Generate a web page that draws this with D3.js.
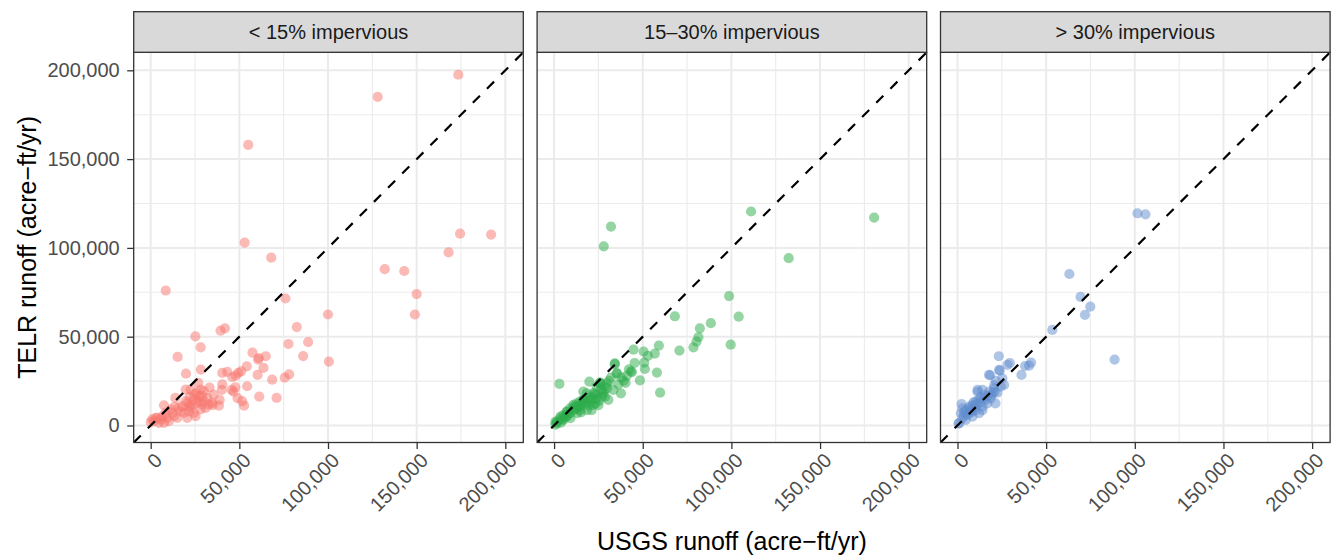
<!DOCTYPE html>
<html>
<head>
<meta charset="utf-8">
<script src="https://cdn.jsdelivr.net/npm/d3@7"></script>
<style>
  body { margin: 0; background: #fff; }
  svg { display: block; }
  text { font-family: "Liberation Sans", Arial, Helvetica, sans-serif; }
</style>
</head>
<body>
<svg id="chart" width="1332" height="555"></svg>
<script>
// Facet labels (imperviousness classes)
const categories = ["< 15% impervious", "15\u201330% impervious", "> 30% impervious"];
const seriesColors = ["#F8766D", "#2CAB4A", "#5F8CCD"];

// Axis breaks (acre-ft/yr)
const majorTicks = [0, 50000, 100000, 150000, 200000];
const minorTicks = [25000, 75000, 125000, 175000];
const axisDomain = [-9577, 210140];

// [USGS runoff, TELR runoff] in acre-ft/yr
const lowImpervious = [
  [173500,197500],[128000,185000],[55000,158000],[53000,103000],[68000,94500],[8500,76000],
  [132000,88000],[143000,87000],[168000,97500],[174500,108000],[192000,107500],[150000,74000],
  [149000,62500],[100000,62500],[100500,36000],[76000,71500],[39400,53400],[41900,54700],
  [25200,50200],[82400,55400],[77700,45900],[88800,47000],[28200,44000],[15200,38600],
  [86000,39100],[57400,41000],[60600,37100],[64900,39000],[63600,32400],[61000,38000],
  [54200,33300],[28300,31500],[19900,29200],[40400,29600],[43200,30200],[46000,27300],
  [49400,29600],[51000,30500],[47900,28100],[60300,28500],[68500,25800],[75600,27000],
  [78100,28800],[71000,15500],[61200,16300],[54400,22100],[52700,11200],[51600,13700],
  [49000,15400],[46700,19100],[47700,21500],[40400,23200],[38900,14400],[38500,11200],
  [33200,21400],[35500,17400],[26800,24000],[28200,20200],[25700,18400],[23500,11800],
  [20800,12700],[19700,20200],[13900,15500],[13500,10500],[7500,11400],[30000,13700],
  [31000,9900],[24400,7100],[21600,8000],[28200,9000],[17800,10900],[15000,4300],
  [12200,7100],[9400,4300],[5600,3400],[1900,2400],[0,1900],[3800,4300],
  [7500,1500],[10300,2400],[13100,5200],[19700,13700],[22500,9900],[26300,12700],
  [29100,16500],[31900,15500],[34700,12700],[25300,5200],[16900,8000],[20600,4300],
  [32800,11800],[27200,16500],[24400,14600],[30000,19300],[22000,16100],[900,3400],
  [45600,20000],[40100,20000],[35000,11500],[22500,20200],[24400,17400],[27200,13700],
  [29100,11800],[21600,10900],[18800,7100],[15900,9900],[11300,9000],[8400,7100],
  [6600,5200],[2800,4300],[4700,1500]
];

const midImpervious = [
  [111100,120500],[180500,117100],[32100,112000],[28000,100900],[132300,94200],[98700,72900],
  [104100,61300],[68100,61500],[88400,57600],[82200,54700],[81400,49700],[80300,47200],
  [78600,44000],[99600,45500],[70700,42200],[59100,45000],[56800,40500],[50500,41600],
  [52900,39200],[44800,42700],[50800,35400],[51200,31800],[58000,29800],[59800,18500],
  [48400,25400],[45400,35200],[42200,31600],[43900,30100],[34300,35000],[3000,23400],
  [37700,18100],[40300,24000],[35300,29400],[31000,25100],[19900,24700],[25900,24100],
  [36200,23200],[30600,14400],[25000,11400],[21200,8700],[15200,7400],[18400,18100],
  [23100,18100],[28100,19100],[1500,2200],[3400,4000],[5300,5900],[7100,7800],
  [9000,9700],[10900,11600],[12800,12500],[14600,13400],[16500,14400],[19300,15300],
  [21200,16200],[24000,17200],[26800,20000],[28700,21900],[24000,21900],[16500,19100],
  [9000,6900],[5300,3100],[12800,9600],[17400,12100],[7100,5000],[10900,8700],
  [3800,1600],[800,500],[14600,10600],[20300,13400],[22100,11600],[33400,20000],
  [28700,16200],[43300,30500],[35500,29400],[29800,23800],[39200,25200],[26100,22800],
  [22000,18100],[16700,14400],[23300,12500],[27000,16200],[14800,8700],[11100,10600],
  [18600,8700],[7300,7800],[3600,5000],[700,2100],[9200,4100],[12900,6900],
  [1700,1200],[34200,34500],[4500,3500],[6200,4800],[8000,6200],[11500,9200],
  [13500,11000],[15500,12000],[18000,13000],[19500,11200],[21000,14500],[23500,15000],
  [25500,14000],[27500,18000],[30000,21000],[26000,24000],[32000,27000],[38000,27000],
  [41000,28000]
];

const highImpervious = [
  [101500,119500],[106000,118900],[63100,85300],[69400,72400],[74900,66900],[71900,62300],
  [53500,53800],[88600,37100],[41500,35400],[40400,33700],[38100,33500],[36100,28500],
  [29500,35200],[28200,34100],[23300,39000],[18400,28300],[23800,30900],[25300,26600],
  [21600,25100],[21400,12500],[24400,21900],[19700,18100],[16000,14400],[11300,20000],
  [14100,20000],[2300,12100],[4700,8700],[8500,11500],[12200,14400],[15200,17200],
  [18000,19100],[20600,20900],[6600,6900],[2800,4000],[600,1200],[10300,8700],
  [14100,10600],[8500,5000],[12200,6900],[4700,3100],[16900,12500],[18800,15300],
  [22500,18500],[26300,22800],[6600,9700],[1900,6900],[2800,9700],[10300,13400],
  [17800,28500],[23500,31300],[11300,19000],[20700,22800],[8400,7800],[1000,1200],
  [6600,10600],[14100,8700],[3500,5500],[5500,6000],[7500,8500],[9500,10000],
  [11000,12000],[13000,13000],[15000,15500],[17000,16500],[19000,17000],[21000,19000],
  [13000,16000],[9000,13000],[4000,7500]
];

const panels = [lowImpervious, midImpervious, highImpervious];

// Layout
const panelLeft = [133.7, 537.1, 940.5];
const panelTop = 52.3;
const panelW = 389.6;
const panelH = 390.2;
const stripTop = 11.7;

const svg = d3.select("#chart");
const fmt = d3.format(",");

const x = d3.scaleLinear().domain(axisDomain).range([0, panelW]);
const y = d3.scaleLinear().domain(axisDomain).range([panelH, 0]);

const defs = svg.append("defs");
defs.append("clipPath").attr("id", "panel-clip")
  .append("rect").attr("width", panelW).attr("height", panelH);

panels.forEach((data, i) => {
  const g = svg.append("g").attr("transform", `translate(${panelLeft[i]},${panelTop})`);

  // background
  g.append("rect").attr("width", panelW).attr("height", panelH).attr("fill", "#fff");

  // minor grid
  const grid = g.append("g").attr("clip-path", "url(#panel-clip)");
  grid.selectAll(".vmin").data(minorTicks).join("line")
    .attr("x1", d => x(d)).attr("x2", d => x(d)).attr("y1", 0).attr("y2", panelH)
    .attr("stroke", "#EBEBEB").attr("stroke-width", 1.1);
  grid.selectAll(".hmin").data(minorTicks).join("line")
    .attr("y1", d => y(d)).attr("y2", d => y(d)).attr("x1", 0).attr("x2", panelW)
    .attr("stroke", "#EBEBEB").attr("stroke-width", 1.1);
  // major grid
  grid.selectAll(".vmaj").data(majorTicks).join("line")
    .attr("x1", d => x(d)).attr("x2", d => x(d)).attr("y1", 0).attr("y2", panelH)
    .attr("stroke", "#EBEBEB").attr("stroke-width", 2);
  grid.selectAll(".hmaj").data(majorTicks).join("line")
    .attr("y1", d => y(d)).attr("y2", d => y(d)).attr("x1", 0).attr("x2", panelW)
    .attr("stroke", "#EBEBEB").attr("stroke-width", 2);

  // points
  const marks = g.append("g").attr("clip-path", "url(#panel-clip)");
  marks.selectAll("circle").data(data).join("circle")
    .attr("cx", d => x(d[0])).attr("cy", d => y(d[1])).attr("r", 5.1)
    .attr("fill", seriesColors[i]).attr("fill-opacity", 0.5);

  // 1:1 reference line
  marks.append("line")
    .attr("x1", x(axisDomain[0])).attr("y1", y(axisDomain[0]))
    .attr("x2", x(axisDomain[1])).attr("y2", y(axisDomain[1]))
    .attr("stroke", "#000").attr("stroke-width", 2.2)
    .attr("stroke-dasharray", "10,10");

  // panel border
  g.append("rect").attr("width", panelW).attr("height", panelH)
    .attr("fill", "none").attr("stroke", "#333333").attr("stroke-width", 1.3);

  // x axis
  const xAxis = g.append("g").attr("transform", `translate(0,${panelH})`)
    .call(d3.axisBottom(x).tickValues(majorTicks).tickSize(6.5).tickPadding(0).tickFormat(fmt));
  xAxis.select(".domain").remove();
  xAxis.selectAll(".tick line").attr("stroke", "#333333").attr("stroke-width", 1.3);
  xAxis.selectAll(".tick text")
    .attr("fill", "#4D4D4D").attr("font-size", 20)
    .attr("y", 0).attr("dy", 0)
    .attr("text-anchor", "end")
    .attr("dominant-baseline", "hanging")
    .attr("transform", "translate(2,9) rotate(-45)");

  // y axis on the first panel only
  if (i === 0) {
    const yAxis = g.append("g")
      .call(d3.axisLeft(y).tickValues(majorTicks).tickSize(6.5).tickPadding(7.5).tickFormat(fmt));
    yAxis.select(".domain").remove();
    yAxis.selectAll(".tick line").attr("stroke", "#333333").attr("stroke-width", 1.3);
    yAxis.selectAll(".tick text").attr("fill", "#4D4D4D").attr("font-size", 20);
  }

  // strip
  const s = svg.append("g").attr("transform", `translate(${panelLeft[i]},${stripTop})`);
  s.append("rect").attr("width", panelW).attr("height", panelTop - stripTop)
    .attr("fill", "#D9D9D9").attr("stroke", "#333333").attr("stroke-width", 1.3);
  s.append("text").attr("x", panelW / 2).attr("y", (panelTop - stripTop) / 2)
    .attr("text-anchor", "middle").attr("dominant-baseline", "central")
    .attr("fill", "#1A1A1A").attr("font-size", 20)
    .text(categories[i]);
});

// axis titles
svg.append("text")
  .attr("x", (panelLeft[0] + panelLeft[2] + panelW) / 2).attr("y", 541)
  .attr("text-anchor", "middle").attr("dominant-baseline", "central")
  .attr("font-size", 25).attr("fill", "#000")
  .text("USGS runoff (acre\u2212ft/yr)");

svg.append("text")
  .attr("transform", `translate(27,${panelTop + panelH / 2}) rotate(-90)`)
  .attr("text-anchor", "middle").attr("dominant-baseline", "central")
  .attr("font-size", 25).attr("fill", "#000")
  .text("TELR runoff (acre\u2212ft/yr)");
</script>
</body>
</html>
